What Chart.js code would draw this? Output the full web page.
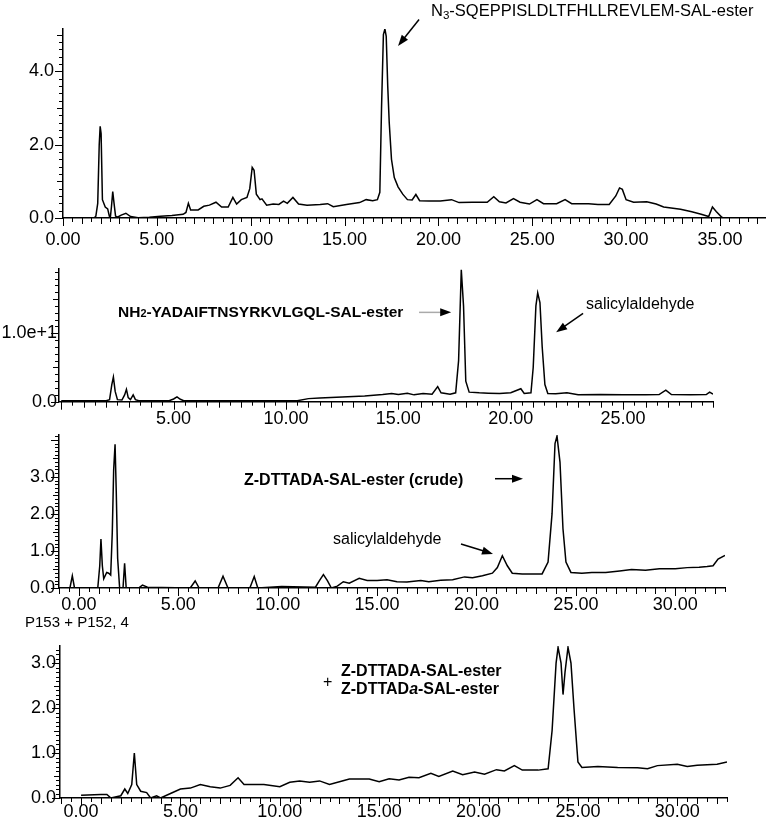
<!DOCTYPE html>
<html>
<head>
<meta charset="utf-8">
<script src="https://cdn.jsdelivr.net/npm/chart.js@4.4.1/dist/chart.umd.min.js"></script>
<style>
  body { margin: 0; background: #fff; }
  #page { position: relative; width: 768px; height: 821px; overflow: hidden; font-family: 'Liberation Sans', Arial, sans-serif; color: #000; }
  canvas { position: absolute; left: 0; }
  .note { position: absolute; white-space: nowrap; line-height: 1; font-size: 16px; z-index: 2; }
  .bold { font-weight: bold; }
  .sm { font-size: 70%; }
</style>
</head>
<body>
<div id="page">
  <canvas id="run1" width="768" height="250" style="top:0px"></canvas>
  <canvas id="run2" width="768" height="180" style="top:250px"></canvas>
  <canvas id="run3" width="768" height="196" style="top:420px"></canvas>
  <canvas id="run4" width="768" height="196" style="top:625px"></canvas>

  <div class="note" style="left:431px; top:2px; font-size:16.5px">N<sub class="sm" style="vertical-align:-3px">3</sub>-SQEPPISLDLTFHLLREVLEM-SAL-ester</div>
  <div class="note bold" style="left:118px; top:304px; font-size:15.5px">NH<span class="sm">2</span>-YADAIFTNSYRKVLGQL-SAL-ester</div>
  <div class="note" style="left:586px; top:296px">salicylaldehyde</div>
  <div class="note bold" style="left:244px; top:472px">Z-DTTADA-SAL-ester (crude)</div>
  <div class="note" style="left:333px; top:531px">salicylaldehyde</div>
  <div class="note" style="left:25px; top:614px; font-size:15px">P153 + P152, 4</div>
  <div class="note" style="left:323px; top:674px">+</div>
  <div class="note bold" style="left:341px; top:663px">Z-DTTADA-SAL-ester</div>
  <div class="note bold" style="left:341px; top:681px">Z-DTTAD<i>a</i>-SAL-ester</div>
</div>
<script>
// run 1: N3-peptide SAL ester
const p1Time = [0, 1.65, 1.75, 1.85, 1.93, 1.98, 2.03, 2.1, 2.25, 2.38, 2.47, 2.52, 2.58, 2.65, 2.72, 2.8, 2.9, 3.1, 3.35, 3.6,
  4.0, 4.6, 5.2, 5.8, 6.4, 6.55, 6.68, 6.8, 7.2, 7.5, 7.8, 8.15, 8.45, 8.8, 9.05, 9.25, 9.5, 9.8, 9.95, 10.08,
  10.18, 10.3, 10.5, 10.6, 10.85, 11.2, 11.5, 11.75, 11.95, 12.25, 12.55, 13.0, 13.7, 14.1, 14.4, 15.1, 15.8, 16.15, 16.5, 16.75,
  16.88, 16.97, 17.07, 17.15, 17.22, 17.3, 17.38, 17.5, 17.65, 17.85, 18.1, 18.35, 18.6, 18.8, 19.0, 19.5, 20.1, 20.7, 21.1, 21.8,
  22.6, 22.95, 23.25, 23.6, 24.0, 24.35, 24.85, 25.25, 25.6, 26.3, 26.75, 27.1, 28.0, 28.5, 29.1, 29.45, 29.65, 29.8, 30.0, 30.4,
  31.1, 31.6, 32.0, 32.9, 33.5, 34.0, 34.4, 34.6, 34.8, 35.1, 35.2, 37.4];
const p1Signal = [0, 0, 0.05, 0.4, 2.0, 2.5, 2.3, 0.5, 0.3, 0.25, 0.05, 0, 0.3, 0.72, 0.4, 0.05, 0.02, 0.08, 0.13, 0.04,
  0.01, 0.02, 0.05, 0.07, 0.1, 0.15, 0.4, 0.22, 0.22, 0.32, 0.35, 0.43, 0.3, 0.3, 0.56, 0.38, 0.5, 0.56, 0.8, 1.38,
  1.3, 0.65, 0.5, 0.52, 0.35, 0.38, 0.37, 0.46, 0.4, 0.56, 0.38, 0.35, 0.37, 0.39, 0.31, 0.37, 0.42, 0.5, 0.47, 0.5,
  0.7, 3.0, 5.0, 5.15, 4.95, 3.6, 2.6, 1.6, 1.1, 0.85, 0.65, 0.5, 0.49, 0.64, 0.47, 0.46, 0.46, 0.5, 0.42, 0.43,
  0.43, 0.58, 0.44, 0.41, 0.53, 0.43, 0.38, 0.5, 0.39, 0.39, 0.5, 0.39, 0.39, 0.37, 0.37, 0.6, 0.82, 0.78, 0.5, 0.43,
  0.44, 0.38, 0.3, 0.24, 0.17, 0.1, 0.04, 0.3, 0.18, 0.02, 0, 0];
const p1XTicks = [0, 5, 10, 15, 20, 25, 30, 35];
const p1YTicks = [0, 2, 4];

// run 2: NH2-peptide SAL ester + salicylaldehyde
const p2Time = [0, 2.0, 2.15, 2.25, 2.32, 2.4, 2.5, 2.7, 2.82, 2.9, 2.98, 3.08, 3.2, 3.3, 3.45, 4.8, 5.0, 5.15, 5.3, 5.45,
  10.5, 11.0, 11.5, 12.5, 13.5, 14.3, 14.7, 15.0, 15.4, 15.7, 16.1, 16.5, 16.75, 16.9, 17.3, 17.55, 17.68, 17.8, 17.9, 18.0,
  18.15, 18.6, 19.0, 19.5, 20.0, 20.45, 20.6, 20.9, 21.0, 21.12, 21.2, 21.3, 21.4, 21.52, 21.65, 22.0, 22.5, 23.0, 24.0, 25.0,
  26.0, 26.6, 26.9, 27.15, 28.0, 28.7, 28.85, 29.0];
const p2Signal = [0.15, 0.15, 0.3, 2.5, 3.6, 1.5, 0.3, 0.25, 1.0, 1.8, 0.6, 0.3, 1.0, 0.3, 0.15, 0.15, 0.4, 0.7, 0.35, 0.15,
  0.15, 0.45, 0.55, 0.7, 0.85, 1.05, 1.2, 1.05, 1.25, 1.0, 1.2, 1.1, 2.2, 1.3, 1.1, 1.3, 6, 19.3, 14, 3,
  1.4, 1.3, 1.25, 1.2, 1.3, 1.9, 1.2, 1.3, 5, 14, 15.9, 14.5, 8, 2.5, 1.2, 1.15, 1.3, 1.0, 1.05, 1.0,
  1.0, 1.05, 1.7, 1.05, 1.0, 1.05, 1.4, 1.1];
const p2XTicks = [5, 10, 15, 20, 25];
const p2YTicks = [0, 10];
const p2YTickText = ['0.0', '1.0e+1'];

// run 3: Z-DTTADA-SAL-ester (crude)
const p3Time = [-1.0, -0.45, -0.33, -0.22, 0.95, 1.05, 1.11, 1.18, 1.25, 1.4, 1.5, 1.6, 1.68, 1.75, 1.82, 1.88, 1.95, 2.05, 2.22, 2.3,
  2.38, 3.0, 3.2, 3.45, 5.6, 5.85, 6.05, 7.0, 7.25, 7.5, 8.6, 8.82, 9.0, 10.2, 11.9, 12.1, 12.3, 12.5, 12.7, 13.0,
  13.3, 13.6, 14.1, 14.5, 15.0, 15.5, 16.0, 16.5, 17.2, 17.6, 18.2, 18.8, 19.4, 19.8, 20.3, 20.8, 21.05, 21.3, 21.55, 21.8,
  22.3, 23.3, 23.6, 23.8, 23.95, 24.05, 24.2, 24.35, 24.5, 24.75, 25.3, 25.8, 26.5, 27.2, 27.8, 28.5, 29.2, 30.0, 30.6, 31.2,
  31.6, 31.9, 32.15, 32.5];
const p3Signal = [0, 0, 0.33, 0, 0, 0.6, 1.32, 0.6, 0.25, 0.42, 0.4, 0.35, 1.5, 3.2, 3.88, 2.6, 0.8, 0, 0, 0.67,
  0, 0, 0.08, 0.02, 0, 0.19, 0, 0, 0.32, 0, 0, 0.31, 0, 0.04, 0.02, 0.2, 0.36, 0.2, 0, 0.05,
  0.17, 0.13, 0.26, 0.2, 0.2, 0.22, 0.17, 0.16, 0.2, 0.17, 0.21, 0.22, 0.3, 0.28, 0.33, 0.4, 0.55, 0.87, 0.6, 0.4,
  0.38, 0.38, 0.7, 2.0, 3.9, 4.1, 3.4, 1.6, 0.7, 0.42, 0.4, 0.42, 0.42, 0.46, 0.5, 0.48, 0.52, 0.52, 0.55, 0.56,
  0.58, 0.6, 0.78, 0.88];
const p3XTicks = [0, 5, 10, 15, 20, 25, 30];
const p3YTicks = [0, 1, 2, 3];

// run 4: P153 + P152, 4
const p4Time = [0, 1.0, 1.3, 1.5, 2.0, 2.2, 2.35, 2.55, 2.68, 2.8, 3.0, 3.3, 3.5, 3.8, 4.0, 4.5, 5.0, 5.5, 6.0, 6.5,
  7.0, 7.5, 7.9, 8.2, 8.7, 9.2, 10.0, 10.5, 11.0, 11.5, 12.0, 12.5, 13.0, 13.5, 14.0, 14.5, 15.0, 15.5, 16.0, 16.5,
  17.0, 17.6, 18.0, 18.7, 19.2, 19.8, 20.3, 20.9, 21.3, 21.8, 22.2, 23.0, 23.5, 23.7, 23.9, 24.0, 24.15, 24.25, 24.35, 24.5,
  24.65, 24.8, 25.0, 25.2, 26.0, 27.0, 28.0, 28.5, 29.0, 30.0, 30.5, 31.0, 32.0, 32.5];
const p4Signal = [0.06, 0.08, 0.08, 0.0, 0.05, 0.2, 0.1, 0.3, 1.0, 0.3, 0.15, 0.12, 0.0, 0.05, 0.0, 0.1, 0.2, 0.22, 0.3, 0.25,
  0.22, 0.28, 0.45, 0.3, 0.3, 0.3, 0.25, 0.35, 0.38, 0.35, 0.38, 0.3, 0.36, 0.42, 0.42, 0.42, 0.36, 0.43, 0.4, 0.46,
  0.45, 0.55, 0.48, 0.6, 0.52, 0.58, 0.53, 0.63, 0.6, 0.72, 0.62, 0.62, 0.65, 1.5, 3.0, 3.35, 3.0, 2.3, 2.8, 3.35,
  3.0, 2.0, 0.8, 0.68, 0.7, 0.68, 0.67, 0.65, 0.72, 0.75, 0.7, 0.73, 0.75, 0.8];
const p4XTicks = [0, 5, 10, 15, 20, 25, 30];
const p4YTicks = [0, 1, 2, 3];

Chart.defaults.font.family = "'Liberation Sans', Arial, sans-serif";
Chart.defaults.font.size = 18;
Chart.defaults.color = '#000';

function near(v, step) {
  const r = v / step;
  return Math.abs(r - Math.round(r)) < 1e-6;
}

// minor/major tick marks drawn off the axes
const tickMarks = {
  id: 'tickMarks',
  afterDraw(chart, args, o) {
    const ctx = chart.ctx, a = chart.chartArea;
    const xs = chart.scales.x, ys = chart.scales.y;
    ctx.save();
    ctx.strokeStyle = '#000';
    ctx.lineWidth = 1;
    ctx.beginPath();
    for (let i = Math.ceil(xs.min / o.xStep); i * o.xStep <= xs.max + 1e-9; i++) {
      const v = i * o.xStep;
      const px = Math.round(xs.getPixelForValue(v)) + 0.5;
      const len = near(v, 5) ? 8 : near(v, 1) ? 6 : 4;
      ctx.moveTo(px, a.bottom);
      ctx.lineTo(px, a.bottom + len);
    }
    for (let i = 0; i * o.yStep <= ys.max + 1e-9; i++) {
      const v = i * o.yStep;
      const py = Math.round(ys.getPixelForValue(v)) + 0.5;
      const len = near(v, o.yMajor) ? 8 : near(v, o.yMid) ? 6 : 4;
      ctx.moveTo(a.left, py);
      ctx.lineTo(a.left - len, py);
    }
    ctx.stroke();
    ctx.restore();
  }
};

// annotation arrows, ends given in data units
const arrows = {
  id: 'arrows',
  afterDraw(chart, args, o) {
    const ctx = chart.ctx, xs = chart.scales.x, ys = chart.scales.y;
    (o.list || []).forEach(ar => {
      const x1 = xs.getPixelForValue(ar.from[0]), y1 = ys.getPixelForValue(ar.from[1]);
      const x2 = xs.getPixelForValue(ar.to[0]), y2 = ys.getPixelForValue(ar.to[1]);
      const ang = Math.atan2(y2 - y1, x2 - x1);
      const hl = 11, hw = 4;
      ctx.save();
      ctx.strokeStyle = ar.shaft || '#000';
      ctx.lineWidth = 1.5;
      ctx.beginPath();
      ctx.moveTo(x1, y1);
      ctx.lineTo(x2 - Math.cos(ang) * hl * 0.8, y2 - Math.sin(ang) * hl * 0.8);
      ctx.stroke();
      ctx.fillStyle = '#000';
      ctx.beginPath();
      ctx.moveTo(x2, y2);
      ctx.lineTo(x2 - Math.cos(ang) * hl - Math.sin(ang) * hw, y2 - Math.sin(ang) * hl + Math.cos(ang) * hw);
      ctx.lineTo(x2 - Math.cos(ang) * hl + Math.sin(ang) * hw, y2 - Math.sin(ang) * hl - Math.cos(ang) * hw);
      ctx.closePath();
      ctx.fill();
      ctx.restore();
    });
  }
};

function drawRun(id, time, signal, cfg) {
  const points = time.map((t, i) => ({ x: t, y: signal[i] }));
  return new Chart(document.getElementById(id), {
    type: 'line',
    data: {
      datasets: [{
        data: points,
        borderColor: '#000',
        borderWidth: 1.5,
        pointRadius: 0,
        tension: 0,
        fill: false
      }]
    },
    options: {
      responsive: false,
      animation: false,
      events: [],
      layout: { padding: { left: 0, right: 768 - cfg.right, top: cfg.top, bottom: 0 } },
      plugins: {
        legend: { display: false },
        tooltip: { enabled: false },
        tickMarks: { xStep: 0.5, yStep: cfg.yStep, yMajor: cfg.yMajor, yMid: cfg.yMid },
        arrows: { list: cfg.arrows || [] }
      },
      scales: {
        x: {
          type: 'linear',
          min: cfg.xMin,
          max: cfg.xMax,
          afterBuildTicks: s => { s.ticks = cfg.xTicks.map(v => ({ value: v })); },
          afterFit: s => { s.height = cfg.xAxisH; },
          grid: { display: false, drawTicks: false },
          border: { display: true, color: '#000', width: 1.5 },
          ticks: {
            autoSkip: false,
            maxRotation: 0,
            padding: cfg.xPad,
            callback: v => v.toFixed(2)
          }
        },
        y: {
          min: 0,
          max: cfg.yMax,
          afterBuildTicks: s => { s.ticks = cfg.yTicks.map(v => ({ value: v })); },
          afterFit: s => { s.width = cfg.left; },
          grid: { display: false, drawTicks: false },
          border: { display: true, color: '#000', width: 1.5 },
          ticks: {
            autoSkip: false,
            padding: cfg.yPad,
            callback: cfg.yText ? ((v, i) => cfg.yText[i]) : (v => v.toFixed(1))
          }
        }
      }
    },
    plugins: [tickMarks, arrows]
  });
}

drawRun('run1', p1Time, p1Signal, {
  left: 63, right: 765, top: 29, xAxisH: 32, xPad: 11, yPad: 9,
  xMin: 0, xMax: 37.4, yMax: 5.15, xTicks: p1XTicks, yTicks: p1YTicks,
  yStep: 0.2, yMajor: 2, yMid: 1,
  arrows: [{ from: [18.97, 5.41], to: [17.85, 4.69] }]
});

drawRun('run2', p2Time, p2Signal, {
  left: 59, right: 713, top: 19, xAxisH: 28.3, xPad: 7, yPad: 2,
  xMin: -0.1, xMax: 29.0, yMax: 19.4, xTicks: p2XTicks, yTicks: p2YTicks, yText: p2YTickText,
  yStep: 1, yMajor: 10, yMid: 5,
  arrows: [
    { from: [15.92, 13.06], to: [17.35, 13.06], shaft: '#aaa' },
    { from: [23.22, 12.9], to: [22.02, 10.15] }
  ]
});

drawRun('run3', p3Time, p3Signal, {
  left: 59, right: 725, top: 15, xAxisH: 28, xPad: 6, yPad: 4,
  xMin: -1.0, xMax: 32.5, yMax: 4.13, xTicks: p3XTicks, yTicks: p3YTicks,
  yStep: 0.1, yMajor: 1, yMid: 0.5,
  arrows: [
    { from: [20.93, 2.95], to: [22.34, 2.95] },
    { from: [19.22, 1.19], to: [20.83, 0.92] }
  ]
});

drawRun('run4', p4Time, p4Signal, {
  left: 60, right: 727, top: 21, xAxisH: 23, xPad: 3, yPad: 4,
  xMin: -1.06, xMax: 32.5, yMax: 3.38, xTicks: p4XTicks, yTicks: p4YTicks,
  yStep: 0.1, yMajor: 1, yMid: 0.5
});
</script>
</body>
</html>
